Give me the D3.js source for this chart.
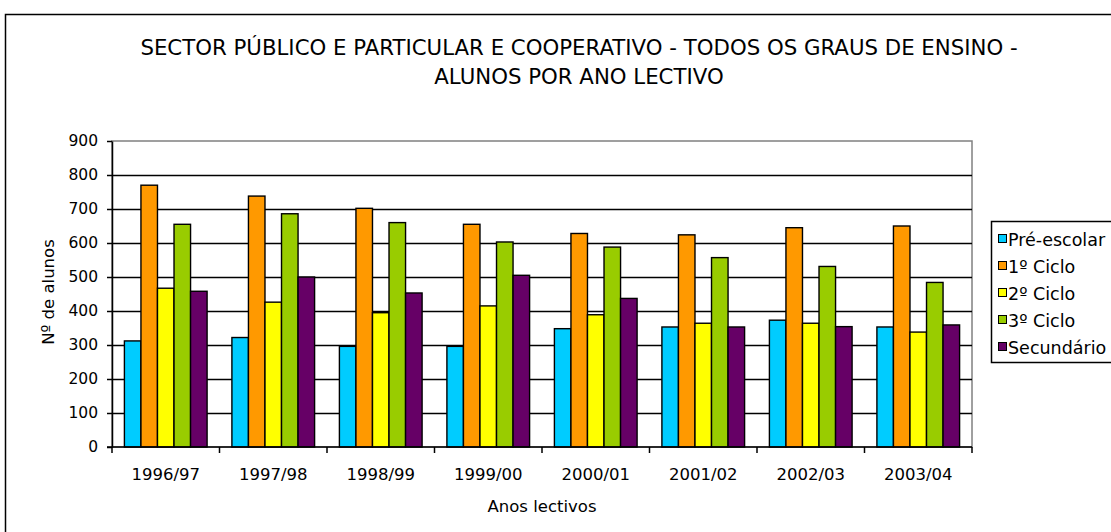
<!DOCTYPE html>
<html>
<head>
<meta charset="utf-8">
<script src="https://cdn.jsdelivr.net/npm/d3@7"></script>
<style>
  html, body { margin: 0; padding: 0; background: #fff; }
  svg { display: block; }
  text { font-family: "DejaVu Sans", sans-serif; fill: #000; }
</style>
</head>
<body>
<svg id="chart" width="1111" height="532"></svg>
<script>
// School years (x axis categories)
const years = ["1996/97", "1997/98", "1998/99", "1999/00", "2000/01", "2001/02", "2002/03", "2003/04"];

// Education levels (series)
const levels = ["Pré-escolar", "1º Ciclo", "2º Ciclo", "3º Ciclo", "Secundário"];
const levelColors = ["#00CCFF", "#FF9900", "#FFFF00", "#99CC00", "#660066"];

// Students per school year, one array per level
const preEscolar = [312, 322, 296, 296, 348, 353, 373, 353];
const ciclo1     = [770, 738, 702, 655, 628, 624, 645, 650];
const ciclo2     = [467, 426, 395, 415, 389, 364, 364, 338];
const ciclo3     = [655, 686, 660, 603, 588, 557, 531, 484];
const secundario = [458, 500, 453, 505, 437, 353, 354, 359];
const seriesValues = [preEscolar, ciclo1, ciclo2, ciclo3, secundario];

const yTicks = [0, 100, 200, 300, 400, 500, 600, 700, 800, 900];

const titleLines = [
  "SECTOR PÚBLICO E PARTICULAR E COOPERATIVO - TODOS OS GRAUS DE ENSINO -",
  "ALUNOS POR ANO LECTIVO"
];

const svg = d3.select("#chart");

// Outer chart frame
svg.append("rect")
  .attr("x", 5.5).attr("y", 14.5)
  .attr("width", 1120).attr("height", 540)
  .attr("fill", "#fff").attr("stroke", "#000").attr("stroke-width", 1.5);

// Title: size the first line to span the chart's title width
const title = svg.append("text")
  .attr("text-anchor", "middle")
  .attr("font-size", 20);
const tspans = title.selectAll("tspan")
  .data(titleLines)
  .join("tspan")
  .attr("x", 579)
  .attr("y", (d, i) => 55 + i * 29)
  .text(d => d);
const firstWidth = tspans.node().getComputedTextLength();
title.attr("font-size", Math.min(22, 20 * 878 / firstWidth));

// Plot area
const plot = { left: 112, right: 972, top: 141, bottom: 447 };

const x = d3.scaleBand()
  .domain(years)
  .range([plot.left, plot.right])
  .paddingInner(0)
  .paddingOuter(0);

const inner = d3.scaleBand()
  .domain(levels)
  .range([0, x.bandwidth()])
  .paddingInner(0)
  .paddingOuter(0.75);

const y = d3.scaleLinear()
  .domain([0, 900])
  .range([plot.bottom, plot.top]);

// Plot area border
svg.append("rect")
  .attr("x", plot.left).attr("y", plot.top)
  .attr("width", plot.right - plot.left).attr("height", plot.bottom - plot.top)
  .attr("fill", "#fff").attr("stroke", "#808080").attr("stroke-width", 1.5);

// Horizontal gridlines
svg.append("g")
  .selectAll("line")
  .data(yTicks.filter(d => d > 0 && d < 900))
  .join("line")
  .attr("x1", plot.left).attr("x2", plot.right)
  .attr("y1", d => Math.round(y(d)) + 0.5).attr("y2", d => Math.round(y(d)) + 0.5)
  .attr("stroke", "#000").attr("stroke-width", 1.5);

// Bars
const groups = svg.append("g")
  .selectAll("g")
  .data(levels.map((name, i) => ({ name, color: levelColors[i], values: seriesValues[i] })))
  .join("g")
  .attr("fill", d => d.color);

groups.selectAll("rect")
  .data(d => d.values.map((v, j) => ({ name: d.name, year: years[j], value: v })))
  .join("rect")
  .attr("x", d => x(d.year) + inner(d.name))
  .attr("y", d => y(d.value))
  .attr("width", inner.bandwidth())
  .attr("height", d => y(0) - y(d.value))
  .attr("stroke", "#000")
  .attr("stroke-width", 1.4);

// Y axis
const yAxis = svg.append("g")
  .attr("transform", `translate(${plot.left},0)`)
  .call(d3.axisLeft(y).tickValues(yTicks).tickSize(5).tickPadding(9).tickSizeOuter(0));
yAxis.select(".domain").attr("stroke", "#000").attr("stroke-width", 1.5);
yAxis.selectAll(".tick line").attr("stroke", "#000").attr("stroke-width", 1.5);
yAxis.selectAll(".tick text")
  .attr("font-size", 15.5)
  .attr("font-family", "DejaVu Sans, sans-serif")
  .attr("fill", "#000");

// X axis with ticks between categories
const xAxisG = svg.append("g").attr("transform", `translate(0,${plot.bottom})`);
xAxisG.append("line")
  .attr("x1", plot.left - 5).attr("x2", plot.right)
  .attr("y1", 0).attr("y2", 0)
  .attr("stroke", "#000").attr("stroke-width", 1.5);
xAxisG.selectAll("line.tick")
  .data(years.map(d => x(d)).concat([plot.right]))
  .join("line")
  .attr("class", "tick")
  .attr("x1", d => d).attr("x2", d => d)
  .attr("y1", 0).attr("y2", 6)
  .attr("stroke", "#000").attr("stroke-width", 1.5);
xAxisG.selectAll("text")
  .data(years)
  .join("text")
  .attr("x", d => x(d) + x.bandwidth() / 2)
  .attr("y", 33)
  .attr("text-anchor", "middle")
  .attr("font-size", 16.5)
  .text(d => d);

// Axis titles
svg.append("text")
  .attr("x", (plot.left + plot.right) / 2)
  .attr("y", 512)
  .attr("text-anchor", "middle")
  .attr("font-size", 16.5)
  .text("Anos lectivos");

svg.append("text")
  .attr("transform", `translate(54,${(plot.top + plot.bottom) / 2 - 2}) rotate(-90)`)
  .attr("text-anchor", "middle")
  .attr("font-size", 16.5)
  .text("Nº de alunos");

// Legend
const legend = svg.append("g");
legend.append("rect")
  .attr("x", 991.5).attr("y", 221.5)
  .attr("width", 140).attr("height", 141)
  .attr("fill", "#fff").attr("stroke", "#000").attr("stroke-width", 1.5);

const items = legend.selectAll("g.item")
  .data(levels.map((name, i) => ({ name, color: levelColors[i] })))
  .join("g")
  .attr("class", "item")
  .attr("transform", (d, i) => `translate(998,${239 + i * 27})`);
items.append("rect")
  .attr("x", 0.5).attr("y", -4.5)
  .attr("width", 8).attr("height", 8)
  .attr("fill", d => d.color)
  .attr("stroke", "#000").attr("stroke-width", 1);
items.append("text")
  .attr("x", 10)
  .attr("y", 6.5)
  .attr("font-size", 17.5)
  .text(d => d.name);
</script>
</body>
</html>
